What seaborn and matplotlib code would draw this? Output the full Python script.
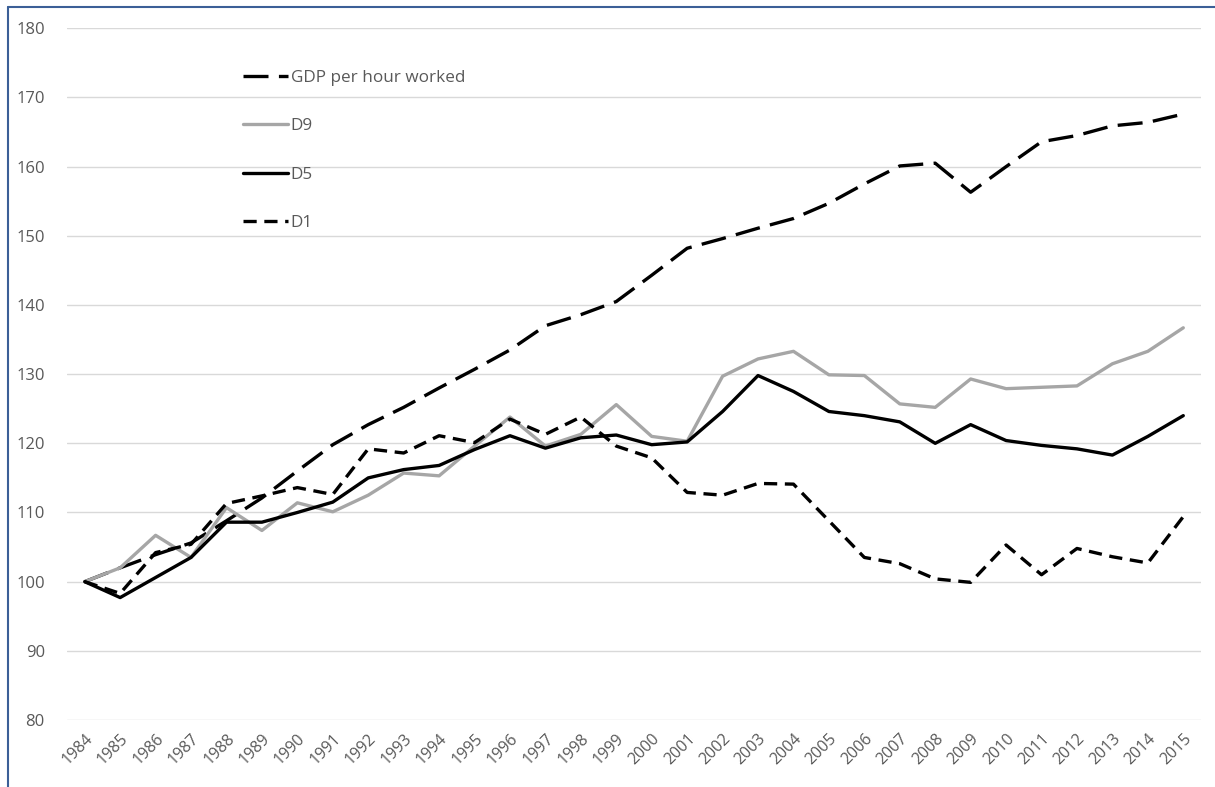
import pandas as pd
import matplotlib
matplotlib.use("Agg")
import matplotlib.pyplot as plt
import seaborn as sns
from matplotlib.lines import Line2D

# %% Daten (Index 1984 = 100)
years = list(range(1984, 2016))
gdp = [100, 102.0, 103.9, 105.6, 108.8, 112.1, 116.0, 119.8, 122.7, 125.2,
       128.0, 130.7, 133.5, 137.0, 138.6, 140.5, 144.3, 148.2, 149.6, 151.1,
       152.5, 154.7, 157.5, 160.1, 160.5, 156.3, 160.0, 163.6, 164.5, 165.9,
       166.4, 167.6]
d9 = [100, 102.0, 106.7, 103.5, 110.7, 107.4, 111.4, 110.1, 112.5, 115.7,
      115.3, 119.6, 123.8, 119.6, 121.3, 125.6, 121.0, 120.3, 129.7, 132.2,
      133.3, 129.9, 129.8, 125.7, 125.2, 129.3, 127.9, 128.1, 128.3, 131.5,
      133.3, 136.7]
d5 = [100, 97.7, 100.6, 103.5, 108.6, 108.6, 110.0, 111.5, 115.0, 116.2,
      116.8, 119.1, 121.1, 119.3, 120.8, 121.2, 119.8, 120.2, 124.6, 129.8,
      127.5, 124.6, 124.0, 123.1, 120.0, 122.7, 120.4, 119.7, 119.2, 118.3,
      121.0, 124.0]
d1 = [100, 98.3, 104.2, 105.4, 111.3, 112.4, 113.6, 112.6, 119.2, 118.6,
      121.1, 120.1, 123.5, 121.3, 123.8, 119.6, 117.9, 112.9, 112.5, 114.2,
      114.1, 108.8, 103.5, 102.6, 100.4, 99.9, 105.3, 101.0, 104.8, 103.6,
      102.7, 109.4]
series_names = ["GDP per hour worked", "D9", "D5", "D1"]

df = pd.DataFrame({"Year": years, series_names[0]: gdp, series_names[1]: d9,
                   series_names[2]: d5, series_names[3]: d1})
long_df = df.melt(id_vars="Year", var_name="Series", value_name="Index")

# %% Stil
sns.set_style("white")
plt.rcParams["font.family"] = ["Open Sans", "DejaVu Sans"]
plt.rcParams["lines.scale_dashes"] = False

farben = {"GDP per hour worked": "black", "D9": "#a6a6a6", "D5": "black", "D1": "black"}
striche = {"GDP per hour worked": (18, 7.5), "D9": "", "D5": "", "D1": (9.5, 5.5)}
text_grau = "#595959"

fig = plt.figure(figsize=(12.15, 7.87), dpi=100)
ax = fig.add_axes([67 / 1215, 1 - 720 / 787, (1201 - 67) / 1215, (720 - 28.3) / 787])

sns.lineplot(data=long_df, x="Year", y="Index", hue="Series", style="Series",
             hue_order=series_names, style_order=series_names,
             palette=farben, dashes=striche, linewidth=2.4, ax=ax)

ax.set_xlim(1983.5, 2015.5)
ax.set_ylim(80, 180)
ax.set_yticks(range(80, 181, 10))
ax.set_xticks(years)
ax.set_xticklabels([str(y) for y in years], rotation=45, ha="right",
                   rotation_mode="anchor", fontsize=11.5, color=text_grau)
ax.tick_params(axis="y", labelsize=12, labelcolor=text_grau, length=0, pad=16)
ax.tick_params(axis="x", length=0, pad=8)
ax.set_xlabel("")
ax.set_ylabel("")
ax.grid(axis="y", color="#d9d9d9", linewidth=1)
ax.set_axisbelow(True)
for s in ax.spines.values():
    s.set_visible(False)

leg = ax.legend(frameon=False, loc="upper left", bbox_to_anchor=(0.155, 0.94),
                fontsize=12.3, handlelength=2.65, handletextpad=0.15, labelspacing=1.9,
                borderpad=0, borderaxespad=0)
for t in leg.get_texts():
    t.set_color(text_grau)

# Rahmen links und oben wie im Excel-Diagramm
fig.add_artist(Line2D([8 / 1215, 8 / 1215], [0, 1 - 7 / 787], color="#3b5f97",
                      linewidth=1.5, transform=fig.transFigure))
fig.add_artist(Line2D([8 / 1215, 1], [1 - 7 / 787, 1 - 7 / 787], color="#3b5f97",
                      linewidth=1.5, transform=fig.transFigure))

fig.savefig("out.png", dpi=100)
